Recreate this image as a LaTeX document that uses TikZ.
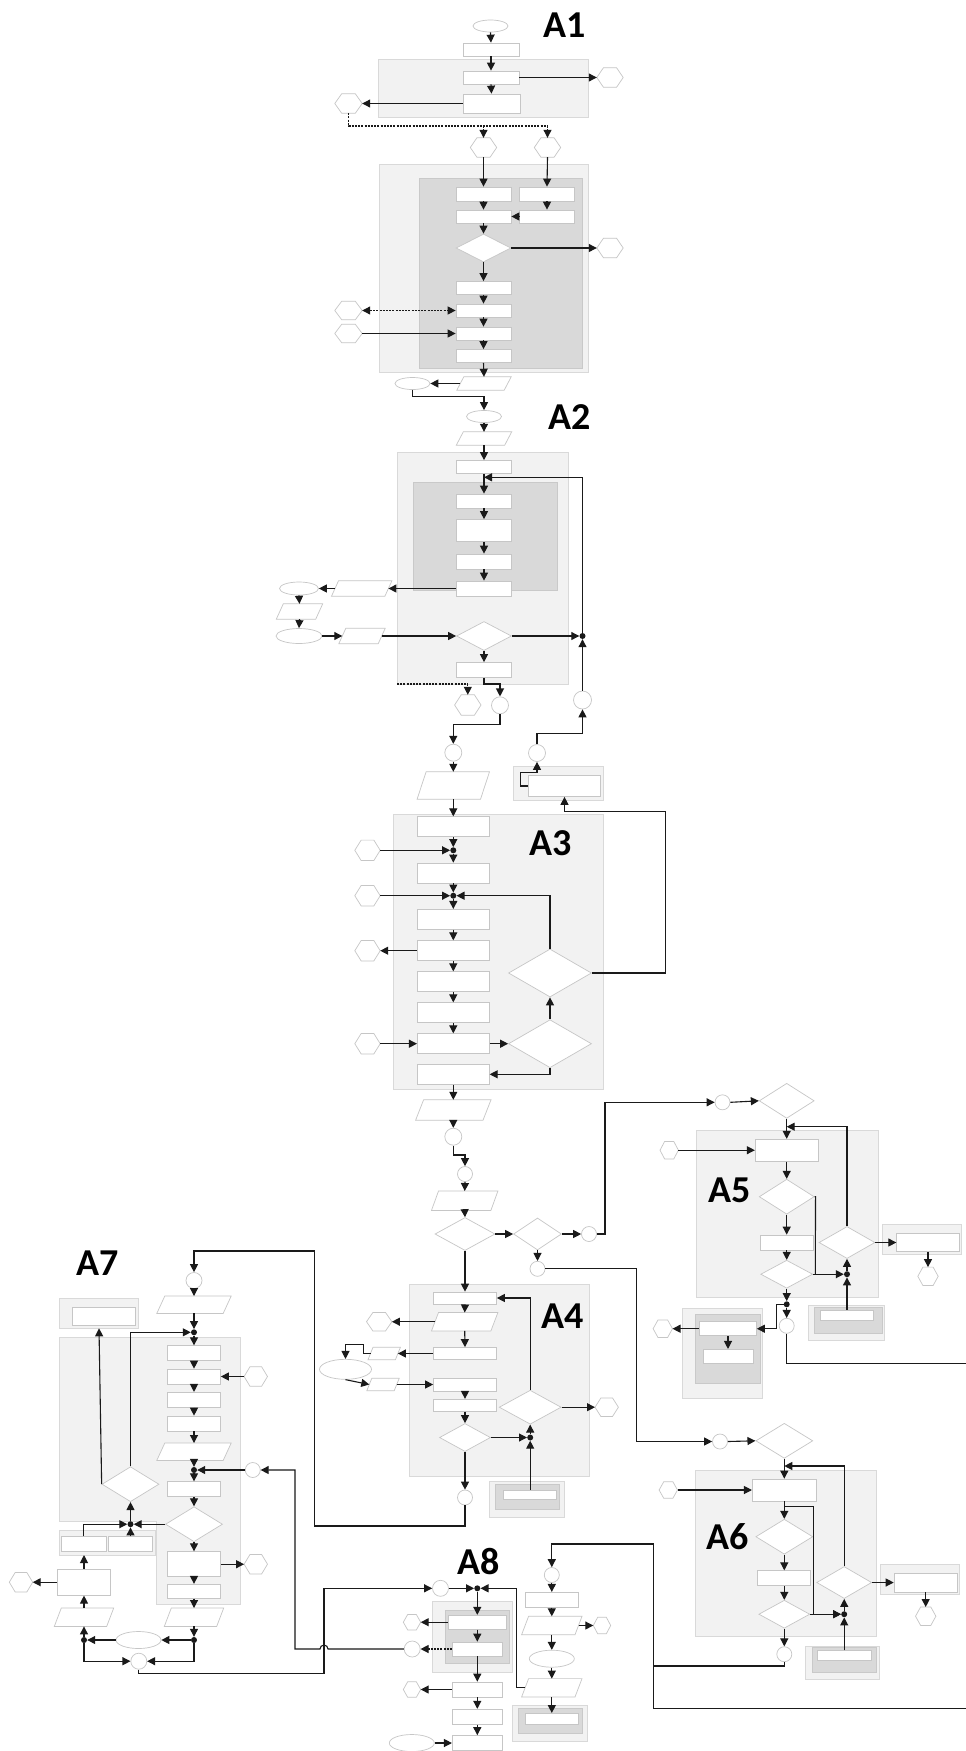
\documentclass[tikz,border=0pt]{standalone}
\usepackage{fontspec}
\newfontfamily\labfont{Carlito}
\usetikzlibrary{shapes.geometric,arrows.meta,calc}
\definecolor{grpfill}{HTML}{F2F2F2}
\definecolor{grpline}{HTML}{D9D9D9}
\definecolor{drkfill}{HTML}{D9D9D9}
\definecolor{drkline}{HTML}{C9C9C9}
\definecolor{shpline}{HTML}{C6C6C6}
\definecolor{lncol}{HTML}{1A1A1A}
\tikzset{
  shp/.style={draw=shpline,fill=white,line width=0.7pt},
  box/.style={shp,rectangle,inner sep=0pt},
  dia/.style={shp,diamond,inner sep=0pt},
  ell/.style={shp,ellipse,inner sep=0pt},
  circ/.style={shp,circle,inner sep=0pt},
  jdot/.style={circle,fill=lncol,inner sep=0pt,minimum size=6pt},
  grp/.style={draw=grpline,fill=grpfill,line width=0.9pt},
  drk/.style={draw=drkline,fill=drkfill,line width=0.8pt},
  ln/.style={draw=lncol,line width=1.1pt},
  tip/.style={-{Triangle[length=8pt,width=8pt]}},
  arr/.style={ln,tip},
  dsh/.style={ln,dash pattern=on 2pt off 1.2pt},
  darr/.style={dsh,tip},
  lab/.style={inner sep=0pt,font=\labfont\bfseries\fontsize{38}{40}\selectfont}
}
% helpers: name, x, y, width, height (pixel-like units)
\newcommand\mkbox[5]{\node[box,minimum width=#4pt,minimum height=#5pt] (#1) at (#2,#3) {};}
\newcommand\mkdia[5]{\node[dia,minimum width=#4pt,minimum height=#5pt] (#1) at (#2,#3) {};}
\newcommand\mkell[5]{\node[ell,minimum width=#4pt,minimum height=#5pt] (#1) at (#2,#3) {};}
\newcommand\mkcirc[4]{\node[circ,minimum size=#4pt] (#1) at (#2,#3) {};}
\newcommand\mkdot[3]{\node[jdot] (#1) at (#2,#3) {};}
\newcommand\mkhex[5]{\node[inner sep=0pt,minimum width=#4pt,minimum height=#5pt] (#1) at (#2,#3) {};
  \draw[shp] (#1.west) -- ($(#1.north west)!0.25!(#1.north east)$) -- ($(#1.north west)!0.75!(#1.north east)$) -- (#1.east) -- ($(#1.south west)!0.75!(#1.south east)$) -- ($(#1.south west)!0.25!(#1.south east)$) -- cycle;}
% parallelogram: name, x, y, mid width, height, slant
\newcommand\mkpara[6]{\node[inner sep=0pt,minimum width=#4pt,minimum height=#5pt] (#1) at (#2,#3) {};
  \draw[shp] ($(#1.south west)+(-#6/2,0)$) -- ($(#1.south east)+(-#6/2,0)$) -- ($(#1.north east)+(#6/2,0)$) -- ($(#1.north west)+(#6/2,0)$) -- cycle;}
\begin{document}
\begin{tikzpicture}[x=1pt,y=-1pt]
\useasboundingbox (0,0) rectangle (966,1751);
\fill[white] (0,0) rectangle (966,1751);

%% ---------- group frames ----------
% A1
\draw[grp] (378,59) rectangle (588,117);
\draw[grp] (379,164) rectangle (588,372);
\draw[drk] (419,178) rectangle (582,368);
% A2
\draw[grp] (397,452) rectangle (568.7,684);
\draw[drk] (413,482.3) rectangle (557.3,590.7);
\draw[grp] (513.3,766) rectangle (603.3,800);
% A3
\draw[grp] (393.3,814.3) rectangle (603.3,1089.3);
% A4
\draw[grp] (409.3,1284.3) rectangle (589.3,1476.7);
\draw[grp] (489.3,1481.7) rectangle (564,1517.3);
\draw[drk] (495,1484) rectangle (559.3,1509.3);
% A5
\draw[grp] (696.7,1130.7) rectangle (878.3,1297.3);
\draw[grp] (882.3,1224.3) rectangle (961.7,1254.3);
\draw[grp] (808.3,1305.7) rectangle (884,1340.7);
\draw[drk] (814,1307.3) rectangle (882.7,1333.3);
\draw[grp] (682.7,1308.3) rectangle (762.7,1398.3);
\draw[drk] (695.7,1314) rectangle (760,1383.3);
% A6
\draw[grp] (695,1470) rectangle (876.7,1636.7);
\draw[grp] (880,1564.3) rectangle (959.3,1594.3);
\draw[grp] (805.7,1646) rectangle (879.3,1679.3);
\draw[drk] (812.3,1647.3) rectangle (876.7,1672.7);
% A7
\draw[grp] (59,1337.3) -- (240.7,1337.3) -- (240.7,1604) -- (156.7,1604) -- (156.7,1521) -- (59,1521) -- cycle;
\draw[grp] (59,1298.3) rectangle (138.3,1328.3);
\draw[grp] (59,1530) rectangle (155.7,1555);
% A8
\draw[grp] (432.3,1601) rectangle (512.3,1672.7);
\draw[drk] (445.7,1610) rectangle (509,1663.3);
\draw[grp] (512.3,1705.7) rectangle (587.3,1741.7);
\draw[drk] (518.3,1708.3) rectangle (582.3,1733.3);

%% ---------- labels ----------
\node[lab] (labA1) at (564.7,24.7) {A1};
\node[lab] (labA2) at (570,417.5) {A2};
\node[lab] (labA3) at (551,843.3) {A3};
\node[lab] (labA4) at (563,1316.3) {A4};
\node[lab] (labA5) at (730,1190) {A5};
\node[lab] (labA6) at (727.7,1536.7) {A6};
\node[lab] (labA7) at (97.5,1263.5) {A7};
\node[lab] (labA8) at (479,1561.7) {A8};

%% ---------- A1 ----------
\mkell{e0}{490.5}{26}{35}{12}
\mkbox{b0}{491}{49.5}{56}{13}
\mkbox{b1}{491}{77.5}{56}{13}
\mkbox{b2}{491.5}{103.5}{57}{19}
\mkhex{h1}{610}{77.5}{26}{19}
\mkhex{h2}{348.5}{103.5}{27}{19}
\mkhex{h3}{483.5}{147.5}{26}{19}
\mkhex{h4}{547.5}{147.5}{26}{19}
\mkbox{a1}{483.5}{194}{55}{14}
\mkbox{a2}{547}{194}{55}{14}
\mkbox{bb1}{483.5}{216.5}{55}{13}
\mkbox{bb2}{547}{216.5}{55}{13}
\mkdia{d1}{483.5}{248}{55}{28}
\mkhex{h5}{610}{248}{26}{19}
\mkbox{c1}{483.5}{288}{55}{13}
\mkbox{c2}{483.5}{310.5}{55}{13}
\mkbox{c3}{483.5}{333.5}{55}{13}
\mkbox{c4}{483.5}{356}{55}{13}
\mkhex{h6}{348.5}{310.5}{27}{18}
\mkhex{h7}{348.5}{333.5}{27}{18}
\mkpara{p1}{484}{383.5}{47}{13}{7}
\mkell{e1}{412.5}{383.5}{35}{12}
\coordinate (jd1) at (483.5,126);
\coordinate (jd2) at (547.5,126);

%% ---------- A2 ----------
\mkell{e2}{484}{416.5}{35}{12}
\mkpara{p2}{484}{438.5}{48}{13}{7}
\mkbox{d21}{484}{467}{55}{13}
\mkbox{e21}{484}{501}{55}{14}
\mkbox{e22}{484}{530.5}{55}{22}
\mkbox{e23}{484}{561.5}{55}{15}
\mkbox{e24}{484}{588.5}{55}{15}
\mkpara{p3}{361.7}{588.5}{53}{15}{7}
\mkell{e3}{299}{588.5}{39}{13}
\mkpara{p4}{299.5}{611.5}{39}{15}{7}
\mkell{e4}{299}{636}{46}{15}
\mkpara{p5}{362}{636}{39}{15}{7}
\mkdia{dd2}{484}{636}{55}{29}
\mkdot{dot2}{582.5}{636}
\mkbox{f1}{484}{670}{55}{15}
\mkhex{h8}{467.8}{705}{26}{20}
\mkcirc{ca}{500}{705.3}{17}
\mkcirc{cb}{453.3}{752.7}{17}
\mkcirc{cc}{582.5}{700}{18}
\mkcirc{cd}{537}{753}{17}
\mkbox{sb1}{564.5}{786}{72}{21}
\mkpara{p6}{453.3}{785.5}{63}{27}{9}
\coordinate (ret2) at (484,477.3);
\coordinate (gc3) at (397,684);

%% ---------- A3 ----------
\mkbox{g1}{453.3}{826.7}{72}{20}
\mkdot{dot3a}{453.3}{850.3}
\mkhex{h9}{367.5}{850.3}{25}{20}
\mkbox{g2}{453.3}{873}{72}{20}
\mkdot{dot3b}{453.3}{895.7}
\mkhex{h10}{367.5}{895.7}{25}{20}
\mkbox{g3}{453.3}{919.3}{72}{20}
\mkbox{g4}{453.3}{950.7}{72}{20}
\mkhex{h11}{367.5}{950.7}{25}{20}
\mkbox{g5}{453.3}{981.7}{72}{20}
\mkbox{g6}{453.3}{1012.7}{72}{20}
\mkbox{g7}{453.3}{1043.7}{72}{20}
\mkhex{h12}{367.5}{1043.7}{25}{20}
\mkbox{g8}{453.3}{1074.3}{72}{20}
\mkdia{dia3a}{550}{973}{83}{48}
\mkdia{dia3b}{550}{1043.7}{83}{48}
\mkpara{p7}{453.3}{1110}{67}{20}{8}

%% ---------- A4 ----------
\mkcirc{ci1}{453.3}{1136.7}{17}
\mkcirc{ci2}{465}{1174}{15}
\mkpara{p8}{464.7}{1200.7}{59}{19}{7}
\mkdia{dA}{465}{1234}{60}{33}
\mkdia{dB}{537.5}{1234}{48}{32}
\mkcirc{ci3}{589}{1234}{15}
\mkcirc{ci4}{537.5}{1268.8}{15}
\mkbox{k41}{465}{1298}{63}{12}
\mkpara{p9}{464.7}{1321.7}{59}{18}{7}
\mkhex{h13}{379.2}{1321.7}{25}{18}
\mkbox{k43}{465}{1353.5}{63}{12}
\mkpara{p10}{384.2}{1353.5}{27}{12}{5}
\mkell{el5}{345.5}{1369.3}{52}{20}
\mkpara{p11}{383}{1384.5}{27}{12}{5}
\mkbox{k44}{465}{1384.5}{63}{13}
\mkbox{k45}{465}{1405.2}{63}{12}
\mkdia{dC}{465}{1437.5}{51}{28}
\mkdia{dD}{530.2}{1407.2}{62}{34}
\mkhex{h14}{606.7}{1407.2}{23}{18}
\mkdot{dot4}{530.2}{1437.5}
\mkbox{sb2}{530.2}{1494.7}{53}{9.3}
\mkcirc{ci5}{465}{1497.5}{15}

%% ---------- A5 ----------
\mkcirc{ci6}{722.5}{1102.3}{15}
\mkdia{q0}{786.7}{1100.8}{55}{35}
\mkbox{q1}{786.7}{1150.2}{63}{22}
\mkhex{h15}{669.2}{1150.2}{18}{17}
\mkdia{q2}{786.7}{1196.7}{55}{35}
\mkbox{q3}{786.7}{1242.5}{53}{15}
\mkdia{q4}{786.7}{1274.2}{52}{28}
\mkdia{q5}{847}{1242.5}{56}{32}
\mkdot{dot5}{847}{1274.2}
\mkbox{sb3}{928}{1242.5}{62.6}{18.4}
\mkhex{h16}{928}{1276.3}{20}{18}
\mkbox{sb4}{847}{1315.3}{53.3}{10.7}
\mkdot{dot5b}{786.7}{1304.3}
\mkcirc{ci9}{786.7}{1325.8}{15}
\mkbox{r1}{728}{1328.7}{57}{14}
\mkbox{r2}{728}{1356.3}{50}{14}
\mkhex{h17}{662.8}{1328.7}{19}{17}
\coordinate (out5) at (966,1363.3);

%% ---------- A6 ----------
\mkcirc{ci7}{720}{1441.5}{15}
\mkdia{s0}{784.3}{1440.8}{57}{35}
\mkbox{s1}{784.3}{1490}{64}{22}
\mkhex{h18}{668.3}{1490}{18}{16}
\mkdia{s2}{784.3}{1536.7}{57}{35}
\mkbox{s3}{784.3}{1578.2}{53}{15}
\mkdia{s4}{784.3}{1614.2}{51}{28}
\mkdia{s5}{844.2}{1582.5}{55}{32}
\mkdot{dot6}{844.2}{1614.2}
\mkbox{sb5}{925.7}{1582.5}{63.3}{19}
\mkhex{h19}{925.7}{1616.2}{20}{18}
\mkbox{sb6}{844.2}{1655.7}{53.4}{10}
\mkcirc{ci10}{784.3}{1654.2}{15}
\coordinate (br6) at (784.3,1506.7);
\coordinate (out6) at (966,1708.8);

%% ---------- A7 ----------
\mkcirc{ci8}{194}{1280.5}{16}
\mkpara{p12}{194}{1304.7}{66}{17}{8}
\mkbox{sb7}{104}{1316.5}{63.4}{18.4}
\mkdot{dot7a}{194}{1332.3}
\mkbox{j1}{194}{1353.2}{53}{15}
\mkbox{j2}{194}{1376.5}{53}{15}
\mkhex{h20}{255.8}{1376.5}{23}{19}
\mkbox{j3}{194}{1399.8}{53}{15}
\mkbox{j4}{194}{1423.5}{53}{15}
\mkpara{p13}{194}{1451.7}{66}{17}{8}
\mkdot{dot7b}{194}{1470}
\mkcirc{ci11}{252.8}{1470}{15}
\mkbox{j6}{194}{1489.2}{53}{15}
\mkdia{j7}{194}{1524.2}{57}{35}
\mkdia{dia7}{130.5}{1484.2}{57}{35}
\mkdot{dot7c}{130.5}{1524.2}
\mkbox{k1}{83.8}{1544.2}{44.3}{15}
\mkbox{k2}{130.5}{1544.2}{44.3}{15}
\mkbox{l1}{84}{1582.2}{53}{26}
\mkhex{h21}{21}{1582.2}{23}{19}
\mkpara{l2}{84}{1617.2}{52}{18}{7}
\mkdot{dot7d}{84}{1640}
\mkell{el7}{138.5}{1640}{45}{17}
\mkdot{dot7e}{194}{1640}
\mkcirc{ci12}{138.8}{1661.2}{16}
\mkbox{j8}{194}{1564.2}{53}{25}
\mkhex{h22}{255.8}{1564.2}{23}{19}
\mkbox{j9}{194}{1591.2}{53}{14}
\mkpara{j10}{194}{1617.2}{52}{18}{7}
\coordinate (sg7b) at (99,1328.3);
\coordinate (sgkb) at (84,1555);

%% ---------- A8 ----------
\mkcirc{ci13}{440.5}{1588.3}{16}
\mkdot{dot8}{477.3}{1588.3}
\mkbox{n1}{477.3}{1622.2}{58}{14}
\mkhex{h23}{412}{1622.2}{17}{15}
\mkbox{n2}{477.3}{1649}{50}{14}
\mkcirc{ci14}{412.2}{1649}{16}
\mkbox{n3}{477.3}{1689.5}{50}{15}
\mkhex{h24}{412}{1689.5}{17}{15}
\mkbox{n4}{477.3}{1716.7}{50}{15}
\mkbox{n5}{477.3}{1743}{50}{15}
\mkell{el8}{411.8}{1743}{45}{17}
\mkcirc{ci15}{551.8}{1575}{15}
\mkbox{m1}{551.8}{1599.8}{53}{15}
\mkpara{m2}{551.8}{1625.5}{53}{18}{7}
\mkhex{h25}{602}{1625.5}{17}{16}
\mkell{m3}{551.8}{1658.7}{45}{17}
\mkpara{m4}{551.8}{1687.8}{53}{18}{7}
\mkbox{sb8}{551.8}{1718.7}{53.3}{10.7}

%% ---------- connectors: A1 ----------
\draw[arr] (e0.south) -- (b0.north);
\draw[arr] (b0.south) -- (b1.north);
\draw[arr] (b1.south) -- (b2.north);
\draw[arr] (b1.east) -- (h1.west);
\draw[arr] (b2.west) -- (h2.east);
\draw[dsh] (h2.south) |- (jd2);
\draw[darr] (jd1) -- (h3.north);
\draw[darr] (jd2) -- (h4.north);
\draw[arr] (h3.south) -- (a1.north);
\draw[arr] (h4.south) -- (a2.north);
\draw[arr] (a1.south) -- (bb1.north);
\draw[arr] (a2.south) -- (bb2.north);
\draw[arr] (bb2.west) -- (bb1.east);
\draw[arr] (bb1.south) -- (d1.north);
\draw[arr] (d1.east) -- (h5.west);
\draw[arr] (d1.south) -- (c1.north);
\draw[arr] (c1.south) -- (c2.north);
\draw[arr] (c2.south) -- (c3.north);
\draw[arr] (c3.south) -- (c4.north);
\draw[dsh,{Triangle[length=8pt,width=8pt]}-{Triangle[length=8pt,width=8pt]}] (h6.east) -- (c2.west);
\draw[arr] (h7.east) -- (c3.west);
\draw[arr] (c4.south) -- (p1.north);
\draw[arr] (p1.west) -- (e1.east);
\draw[arr] (e1.south) |- (484,396.7) -- (e2.north);

%% ---------- connectors: A2 ----------
\draw[arr] (e2.south) -- (p2.north);
\draw[arr] (p2.south) -- (d21.north);
\draw[arr] (d21.south) -- (e21.north);
\draw[arr] (e21.south) -- (e22.north);
\draw[arr] (e22.south) -- (e23.north);
\draw[arr] (e23.south) -- (e24.north);
\draw[arr] (e24.west) -- (p3.east);
\draw[arr] (p3.west) -- (e3.east);
\draw[arr] (e3.south) -- (p4.north);
\draw[arr] (p4.south) -- (e4.north);
\draw[arr] (e4.east) -- (p5.west);
\draw[arr] (p5.east) -- (dd2.west);
\draw[arr] (dd2.east) -- (dot2);
\draw[arr] (cc.north) -- (dot2);
\draw[arr] (dot2) |- (ret2);
\draw[arr] (dd2.south) -- (f1.north);
\draw[arr] (f1.south) |- (500,684) -- (ca.north);
\draw[darr] (gc3) -| (h8.north);
\draw[arr] (ca.south) |- (453.3,724.3) -- (cb.north);
\draw[arr] (cb.south) -- (p6.north);
\draw[arr] (sb1.west) -- ++(-8,0) |- (537,772.7) -- (cd.south);
\draw[arr] (cd.north) |- (582.5,733.3) -- (cc.south);

%% ---------- connectors: A3 ----------
\draw[arr] (p6.south) -- (g1.north);
\draw[arr] (g1.south) -- (dot3a);
\draw[arr] (h9.east) -- (dot3a);
\draw[arr] (dot3a) -- (g2.north);
\draw[arr] (g2.south) -- (dot3b);
\draw[arr] (h10.east) -- (dot3b);
\draw[arr] (dia3a.north) |- (dot3b);
\draw[arr] (dot3b) -- (g3.north);
\draw[arr] (g3.south) -- (g4.north);
\draw[arr] (g4.west) -- (h11.east);
\draw[arr] (g4.south) -- (g5.north);
\draw[arr] (g5.south) -- (g6.north);
\draw[arr] (g6.south) -- (g7.north);
\draw[arr] (h12.east) -- (g7.west);
\draw[arr] (g7.east) -- (dia3b.west);
\draw[arr] (dia3b.north) -- (dia3a.south);
\draw[arr] (dia3b.south) |- (g8.east);
\draw[arr] (g8.south) -- (p7.north);
\draw[arr] (dia3a.east) -| (665.7,811.7) -| (sb1.south);

%% ---------- connectors: A4 ----------
\draw[arr] (p7.south) -- (ci1.north);
\draw[arr] (ci1.south) |- (465,1155) -- (ci2.north);
\draw[arr] (ci2.south) -- (p8.north);
\draw[arr] (p8.south) -- (dA.north);
\draw[arr] (dA.east) -- (dB.west);
\draw[arr] (dB.east) -- (ci3.west);
\draw[arr] (ci3.east) -| (605,1102.3) -- (ci6.west);
\draw[arr] (dB.south) -- (ci4.north);
\draw[arr] (ci4.east) -| (636.7,1441.5) -- (ci7.west);
\draw[arr] (dA.south) -- (k41.north);
\draw[arr] (k41.south) -- (p9.north);
\draw[arr] (p9.west) -- (h13.east);
\draw[arr] (p9.south) -- (k43.north);
\draw[arr] (k43.west) -- (p10.east);
\draw[arr] (p10.west) -- (363.3,1353.5) |- (345.5,1344.3) -- (el5.north);
\draw[arr] (el5.south) -- (p11.west);
\draw[arr] (p11.east) -- (k44.west);
\draw[arr] (k44.south) -- (k45.north);
\draw[arr] (k45.south) -- (dC.north);
\draw[arr] (dD.east) -- (h14.west);
\draw[arr] (dD.north) |- (k41.east);
\draw[arr] (dC.east) -- (dot4);
\draw[arr] (sb2.north) -- (dot4);
\draw[arr] (dot4) -- (dD.south);
\draw[arr] (dC.south) -- (ci5.north);
\draw[arr] (ci5.south) |- (314.3,1526) |- (194,1251) -- (ci8.north);

%% ---------- connectors: A5 ----------
\draw[arr] (ci6.east) -- (q0.west);
\draw[arr] (q0.south) -- (q1.north);
\draw[arr] (h15.east) -- (q1.west);
\draw[arr] (q1.south) -- (q2.north);
\draw[arr] (q2.south) -- (q3.north);
\draw[arr] (q3.south) -- (q4.north);
\draw[ln] (q2.east) -- ++(1,0) -- (815.3,1274.2);
\draw[arr] (q4.east) -- (dot5);
\draw[arr] (sb4.north) -- (dot5);
\draw[arr] (dot5) -- (q5.south);
\draw[arr] (q5.north) |- (786.7,1126.7);
\draw[arr] (q5.east) -- (sb3.west);
\draw[arr] (sb3.south) -- (h16.north);
\draw[arr] (q4.south) -- (dot5b);
\draw[arr] (dot5b) -- (ci9.north);
\draw[arr] (dot5b) -- (776.7,1304.3) |- (r1.east);
\draw[arr] (r1.south) -- (r2.north);
\draw[arr] (r1.west) -- (h17.east);
\draw[ln] (ci9.south) |- (out5);

%% ---------- connectors: A6 ----------
\draw[arr] (ci7.east) -- (s0.west);
\draw[arr] (s0.south) -- (s1.north);
\draw[arr] (h18.east) -- (s1.west);
\draw[arr] (s1.south) -- (s2.north);
\draw[arr] (s2.south) -- (s3.north);
\draw[arr] (s3.south) -- (s4.north);
\draw[arr] (br6) -- (813.3,1506.7) |- (dot6);
\draw[arr] (s4.east) -- (dot6);
\draw[arr] (sb6.north) -- (dot6);
\draw[arr] (dot6) -- (s5.south);
\draw[arr] (s5.north) |- (784.3,1466);
\draw[arr] (s5.east) -- (sb5.west);
\draw[arr] (sb5.south) -- (h19.north);
\draw[arr] (s4.south) -- (ci10.north);
\draw[ln] (ci10.south) |- (653.3,1666);
\draw[arr] (out6) -| (653.3,1544) -| (ci15.north);

%% ---------- connectors: A7 ----------
\draw[arr] (ci8.south) -- (p12.north);
\draw[arr] (p12.south) -- (dot7a);
\draw[arr] (dia7.north) |- (dot7a);
\draw[arr] (dot7a) -- (j1.north);
\draw[arr] (dia7.west) -- (sg7b);
\draw[arr] (j1.south) -- (j2.north);
\draw[arr] (h20.west) -- (j2.east);
\draw[arr] (j2.south) -- (j3.north);
\draw[arr] (j3.south) -- (j4.north);
\draw[arr] (j4.south) -- (p13.north);
\draw[arr] (p13.south) -- (dot7b);
\draw[arr] (ci11.west) -- (dot7b);
\draw[arr] (dot7b) -- (j6.north);
\draw[arr] (j6.south) -- (j7.north);
\draw[arr] (j7.west) -- (dot7c);
\draw[arr] (k1.north) |- (dot7c);
\draw[arr] (k2.north) -- (dot7c);
\draw[arr] (dot7c) -- (dia7.south);
\draw[arr] (j7.south) -- (j8.north);
\draw[arr] (j8.east) -- (h22.west);
\draw[arr] (j8.south) -- (j9.north);
\draw[arr] (j9.south) -- (j10.north);
\draw[arr] (j10.south) -- (dot7e);
\draw[arr] (dot7e) -- (el7.east);
\draw[arr] (el7.west) -- (dot7d);
\draw[arr] (dot7d) -- (l2.south);
\draw[arr] (l2.north) -- (l1.south);
\draw[arr] (l1.north) -- (sgkb);
\draw[arr] (l1.west) -- (h21.east);
\draw[arr] (dot7d) |- (ci12.west);
\draw[arr] (dot7e) |- (ci12.east);
\draw[arr] (ci12.south) |- (324,1673.3) |- (ci13.west);
\draw[arr] (ci14.west) -- (328,1649) arc (0:180:4pt) -- (295,1649) |- (ci11.east);

%% ---------- connectors: A8 ----------
\draw[arr] (ci13.east) -- (dot8);
\draw[arr] (m4.west) -- (516.7,1687.8) |- (dot8);
\draw[arr] (dot8) -- (n1.north);
\draw[arr] (n1.west) -- (h23.east);
\draw[arr] (n1.south) -- (n2.north);
\draw[darr] (n2.west) -- (ci14.east);
\draw[arr] (n2.south) -- (n3.north);
\draw[arr] (n3.west) -- (h24.east);
\draw[arr] (n3.south) -- (n4.north);
\draw[arr] (n4.south) -- (n5.north);
\draw[arr] (el8.east) -- (n5.west);
\draw[arr] (ci15.south) -- (m1.north);
\draw[arr] (m1.south) -- (m2.north);
\draw[arr] (m2.east) -- (h25.west);
\draw[arr] (m2.south) -- (m3.north);
\draw[arr] (m3.south) -- (m4.north);
\draw[arr] (m4.south) -- (sb8.north);
\end{tikzpicture}
\end{document}
